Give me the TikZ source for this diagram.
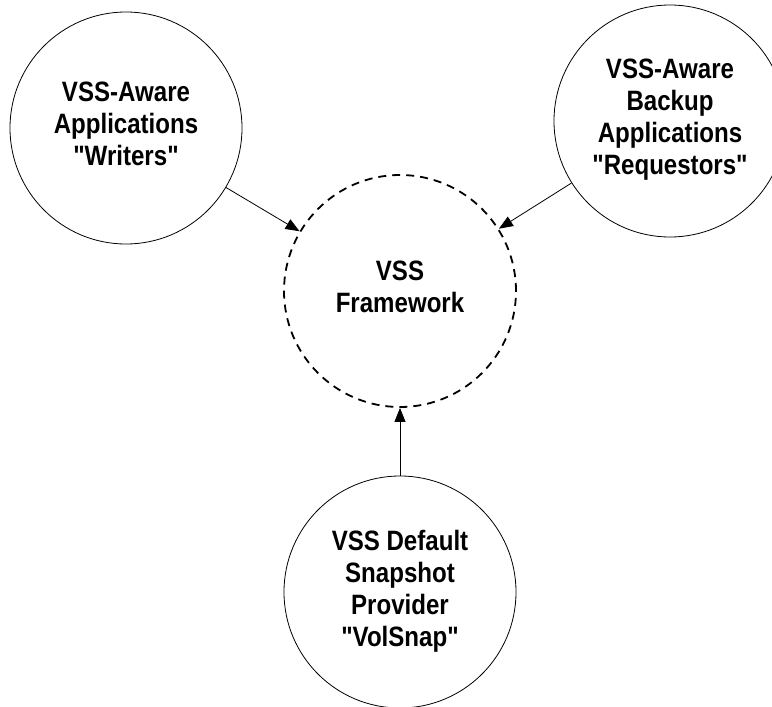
\documentclass[tikz,border=0pt]{standalone}
\usepackage{fontspec}
\setmainfont{Liberation Sans}[FakeStretch=0.86, Ligatures=TeXOff]
\usetikzlibrary{shapes.geometric, arrows.meta}
\newcommand{\lowpad}{\rule[-8pt]{0pt}{8pt}}
\tikzstyle{actor} = [circle, draw=black, line width=0.8pt,
                     minimum size=232pt, inner sep=0pt,
                     align=center, text=black,
                     font=\bfseries\fontsize{28}{32}\selectfont]
\tikzstyle{core} = [actor, line width=1.8pt, dash pattern=on 8pt off 6pt]
\tikzstyle{arrow} = [line width=0.8pt, -{Triangle[length=14pt,width=11pt]}]

\begin{document}
\begin{tikzpicture}[x=1pt, y=-1pt]
    \useasboundingbox (0,0) rectangle (772,707);

        \node (Framework) [core] at (400,291) {VSS\\Framework\lowpad};

        \node (Writers) [actor] at (126,128) {VSS-Aware\\Applications\\"Writers"\lowpad};

        \node (Requestors) [actor] at (670,121) {VSS-Aware\\Backup\\Applications\\"Requestors"\lowpad};

        \node (VolSnap) [actor] at (400,592) {VSS Default\\Snapshot\\Provider\\"VolSnap"\lowpad};

        \draw [arrow] (Writers) -- (Framework);
        \draw [arrow] (Requestors) -- (Framework);
        \draw [arrow] (VolSnap) -- (Framework);

    \end{tikzpicture}
\end{document}
